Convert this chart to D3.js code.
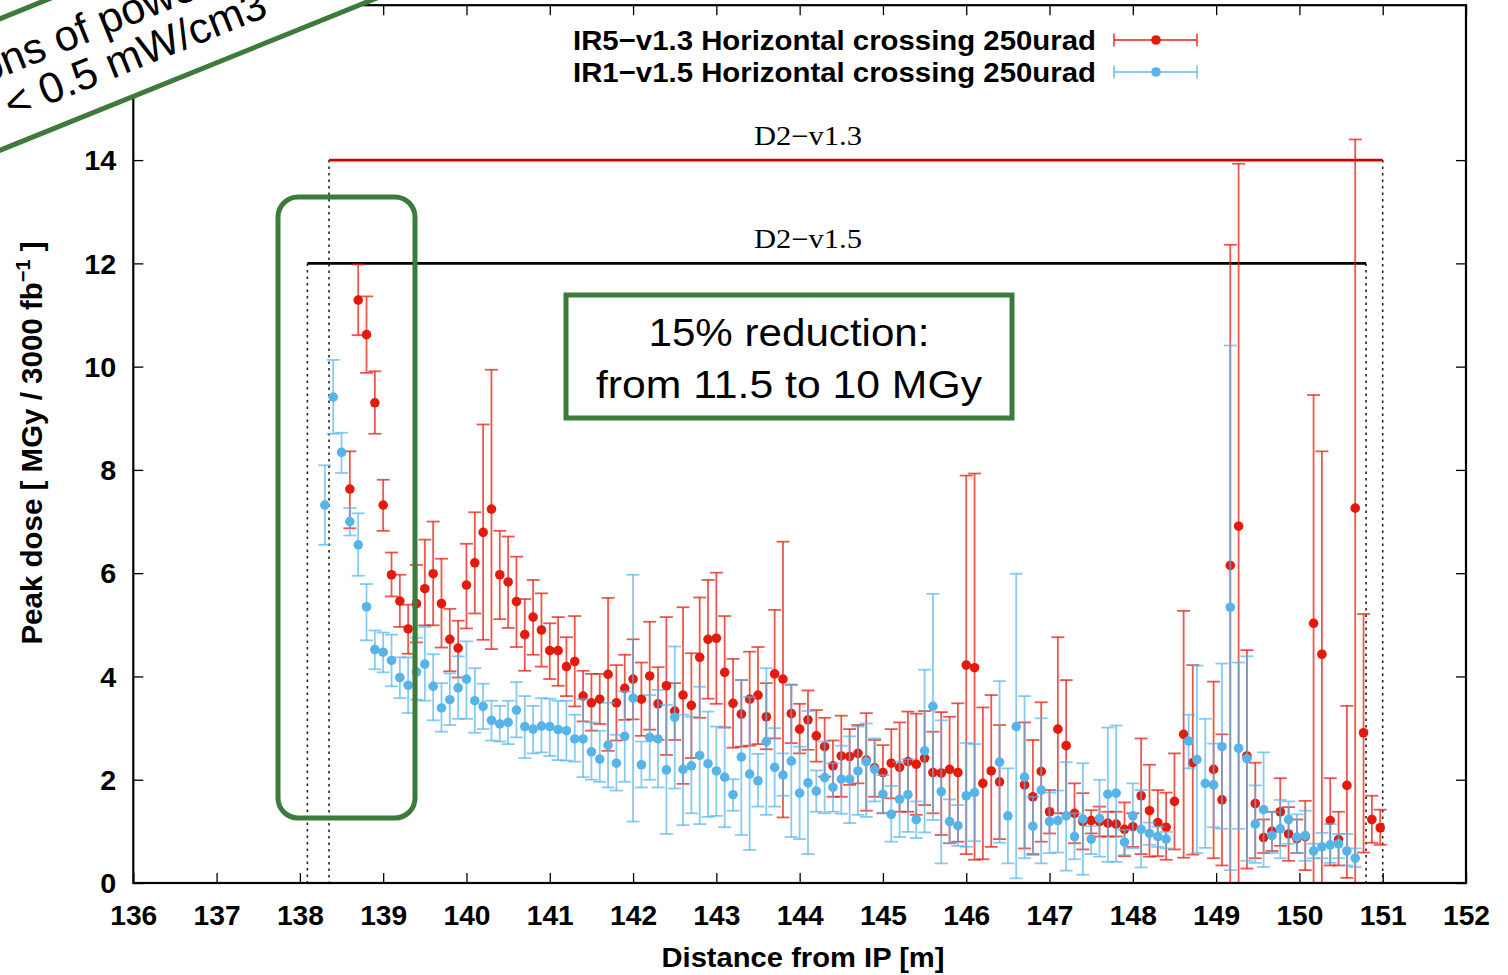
<!DOCTYPE html>
<html><head><meta charset="utf-8">
<script src="https://cdn.jsdelivr.net/npm/d3@7"></script>
<style>body{margin:0;background:#fff}svg{display:block}</style>
</head><body>
<svg id="c" width="1508" height="975"></svg>
<script>
// ---------------- DATA ----------------
const xTickValues = [136,137,138,139,140,141,142,143,144,145,146,147,148,149,150,151,152];
const yTickValues = [0,2,4,6,8,10,12,14];
const seriesLabels = ["IR5\u2212v1.3 Horizontal crossing 250urad", "IR1\u2212v1.5 Horizontal crossing 250urad"];
// [x, value, low, high]
const ir5Data = [
[138.6,7.63,6.87,8.36],[138.7,11.29,10.61,11.98],[138.8,10.62,9.88,11.36],[138.9,9.30,8.70,9.91],
[139.0,7.32,6.82,7.81],[139.1,5.97,5.55,6.40],[139.2,5.46,4.96,5.97],[139.3,4.92,4.44,5.39],
[139.4,5.41,4.66,6.16],[139.5,5.70,4.99,6.65],[139.6,5.99,4.99,7.00],[139.7,5.41,4.56,6.28],
[139.8,4.72,4.10,5.31],[139.9,4.55,3.98,5.08],[140.0,5.77,4.93,6.57],[140.1,6.20,5.22,7.18],
[140.2,6.79,4.71,8.88],[140.3,7.24,4.53,9.94],[140.4,5.97,5.11,6.82],[140.5,5.83,4.94,6.71],
[140.6,5.45,4.57,6.32],[140.7,4.81,4.11,5.50],[140.8,5.15,4.42,5.87],[140.9,4.90,4.19,5.61],
[141.0,4.50,3.95,5.03],[141.1,4.50,3.82,5.15],[141.2,4.19,3.62,4.76],[141.3,4.29,3.42,5.17],
[141.4,3.62,3.13,4.11],[141.5,3.49,2.95,4.05],[141.6,3.56,3.08,4.05],[141.7,4.04,2.56,5.52],
[141.8,3.49,2.76,4.22],[141.9,3.77,3.16,4.42],[142.0,3.95,3.17,4.72],[142.1,3.56,2.85,4.27],
[142.2,4.01,2.97,5.06],[142.3,3.47,2.77,4.18],[142.4,3.82,2.48,5.15],[142.5,3.33,2.77,3.87],
[142.6,3.64,1.92,5.34],[142.7,3.44,2.42,4.45],[142.8,4.37,3.20,5.53],[142.9,4.72,3.57,5.87],
[143.0,4.74,3.47,6.01],[143.1,4.08,3.01,5.17],[143.2,3.48,2.62,4.34],[143.3,3.27,2.64,3.93],
[143.4,3.56,2.66,4.48],[143.5,3.64,2.69,4.57],[143.6,3.22,2.59,3.87],[143.7,4.05,2.80,5.29],
[143.8,3.95,1.27,6.61],[143.9,3.28,2.71,3.84],[144.0,2.98,2.51,3.47],[144.1,3.16,2.58,3.73],
[144.2,2.85,2.35,3.35],[144.3,2.64,2.06,3.20],[144.4,2.27,1.67,2.76],[144.5,2.46,1.67,3.24],
[144.6,2.45,1.90,2.98],[144.7,2.51,1.93,3.06],[144.8,2.38,1.40,3.29],[144.9,2.23,1.67,2.77],
[145.0,2.14,1.35,2.67],[145.1,2.32,1.64,2.98],[145.2,2.24,1.38,3.11],[145.3,2.35,1.38,3.32],
[145.4,2.30,1.32,3.28],[145.5,2.42,1.51,3.33],[145.6,2.14,1.35,2.93],[145.7,2.13,0.93,3.31],
[145.8,2.20,0.77,3.22],[145.9,2.14,0.80,3.48],[146.0,4.22,0.56,7.89],[146.1,4.17,0.45,7.93],
[146.2,1.93,0.46,3.40],[146.3,2.17,0.70,3.64],[146.4,1.96,0.85,3.06],[146.7,1.90,0.67,3.11],
[146.8,1.67,0.56,2.77],[146.9,2.16,0.80,3.50],[147.0,1.38,0.96,1.80],[147.1,2.98,1.35,4.76],
[147.2,2.66,1.35,3.93],[147.3,1.35,0.77,1.93],[147.4,1.19,0.65,1.74],[147.5,1.21,0.96,1.41],
[147.6,1.19,0.90,1.48],[147.7,1.16,0.90,1.38],[147.8,1.14,0.90,1.38],[147.9,1.04,0.52,1.56],
[148.0,1.09,0.70,1.35],[148.1,1.69,0.56,2.80],[148.2,1.40,0.51,2.29],[148.3,1.17,0.52,1.80],
[148.4,1.08,0.45,1.75],[148.5,1.58,0.65,2.51],[148.61,2.88,0.49,5.27],[148.72,2.33,0.55,4.22],
[148.97,2.20,0.48,3.90],[149.07,1.61,0.34,2.88],[149.17,6.15,0,12.36],[149.27,6.91,0,13.93],
[149.37,2.46,0.28,4.51],[149.47,1.54,0.48,2.33],[149.57,0.88,0.58,1.23],[149.67,1.00,0.62,1.38],
[149.77,1.38,0.72,2.03],[149.87,0.95,0.43,1.47],[149.97,0.86,0.58,1.23],[150.07,0.90,0.25,1.59],
[150.17,5.03,0,9.45],[150.27,4.43,0,8.36],[150.37,1.21,0.34,2.03],[150.47,0.84,0.34,1.38],
[150.57,1.89,0.10,3.43],[150.67,7.26,0,14.40],[150.77,2.91,0.59,5.21],[150.87,1.23,0.78,1.69],
[150.97,1.07,0.74,1.42]
];
const ir1Data = [
[138.3,7.32,6.55,8.09],[138.4,9.41,8.70,10.13],[138.5,8.34,7.94,8.72],[138.6,7.00,6.73,7.26],
[138.7,6.55,5.95,7.16],[138.8,5.35,4.70,5.79],[138.9,4.52,4.14,4.89],[139.0,4.47,4.08,4.85],
[139.1,4.31,3.81,4.81],[139.2,3.98,3.58,4.37],[139.3,3.83,3.29,4.37],[139.4,4.09,3.55,4.75],
[139.5,4.24,3.53,4.96],[139.6,3.81,3.15,4.43],[139.7,3.39,2.93,3.87],[139.8,3.55,3.06,4.06],
[139.9,3.78,3.18,4.39],[140.0,3.95,3.18,4.68],[140.1,3.53,2.91,4.16],[140.2,3.42,2.98,3.86],
[140.3,3.15,2.76,3.53],[140.4,3.08,2.74,3.43],[140.5,3.11,2.69,3.53],[140.6,3.35,2.82,3.89],
[140.7,3.03,2.42,3.62],[140.8,2.98,2.51,3.43],[140.9,3.04,2.53,3.58],[141.0,3.03,2.46,3.57],
[141.1,2.97,2.38,3.53],[141.2,2.95,2.37,3.53],[141.3,2.79,2.35,3.26],[141.4,2.79,2.05,3.56],
[141.5,2.54,2.00,3.11],[141.6,2.40,1.96,2.95],[141.7,2.67,1.85,3.49],[141.8,2.32,1.79,2.87],
[141.9,2.84,1.96,3.71],[142.0,3.58,1.19,5.97],[142.1,2.29,1.85,2.74],[142.2,2.82,2.00,3.64],
[142.3,2.79,1.85,3.74],[142.4,2.19,0.95,3.45],[142.5,3.21,1.83,4.58],[142.6,2.20,1.12,3.26],
[142.7,2.27,1.35,3.22],[142.8,2.47,1.14,3.80],[142.9,2.31,1.28,3.32],[143.0,2.17,1.30,3.03],
[143.1,2.05,1.08,3.02],[143.2,1.71,1.40,2.01],[143.3,2.44,0.93,3.93],[143.4,2.11,0.64,3.60],
[143.5,1.98,1.48,2.50],[143.6,2.74,1.32,4.16],[143.7,2.24,1.48,3.00],[143.8,2.09,1.69,2.51],
[143.9,2.36,0.89,3.84],[144.0,1.74,0.85,2.64],[144.1,1.94,0.56,3.33],[144.2,1.78,1.38,2.18],
[144.3,2.04,1.35,2.74],[144.4,1.85,1.38,2.32],[144.5,2.01,1.34,2.66],[144.6,2.01,1.16,2.84],
[144.7,2.17,1.32,3.03],[144.8,2.35,1.28,3.09],[144.9,2.20,1.58,2.80],[145.0,1.72,1.36,2.09],
[145.1,1.33,0.80,1.88],[145.2,1.62,0.89,2.35],[145.3,1.71,0.99,2.40],[145.4,1.23,0.87,1.58],
[145.5,2.56,0.98,4.13],[145.6,3.42,1.22,5.60],[145.7,1.77,0.38,3.15],[145.8,1.19,0.77,1.62],
[145.9,1.11,0.72,1.51],[146.0,1.69,0.70,2.71],[146.1,1.75,0.81,2.69],[146.4,2.34,0.78,3.91],
[146.5,1.30,0.38,2.22],[146.6,3.03,0.09,5.99],[146.7,2.05,0.48,3.62],[146.8,1.10,0.54,1.67],
[146.9,1.80,0.38,3.19],[147.0,1.19,0.58,1.75],[147.1,1.21,0.59,1.79],[147.2,1.30,0.24,2.34],
[147.3,0.90,0.46,1.35],[147.4,1.24,0.16,2.32],[147.5,0.85,0.56,1.10],[147.6,1.25,0.51,2.00],
[147.7,1.72,0.41,3.01],[147.8,1.74,0.41,3.05],[147.9,0.79,0.54,1.03],[148.0,1.30,0.67,1.93],
[148.1,1.04,0.30,1.80],[148.2,0.96,0.74,1.17],[148.3,0.90,0.70,1.09],[148.4,0.85,0.67,0.99],
[148.67,2.75,2.22,3.26],[148.77,2.39,0.58,4.21],[148.87,1.93,0.68,3.18],[148.97,1.90,1.08,2.70],
[149.07,2.64,1.05,4.25],[149.17,5.34,0.25,10.41],[149.27,2.61,1.05,4.27],[149.37,2.41,0.43,4.39],
[149.47,1.14,0.39,1.89],[149.57,1.42,0.31,2.53],[149.67,0.92,0.58,1.37],[149.77,1.05,0.48,1.61],
[149.87,1.23,0.76,1.58],[149.97,0.89,0.58,1.33],[150.07,0.92,0.43,1.40],[150.17,0.62,0.48,0.76],
[150.27,0.70,0.48,0.97],[150.37,0.74,0.39,1.14],[150.47,0.76,0.48,0.95],[150.57,0.62,0.34,0.95],
[150.67,0.48,0.31,0.67]
];
// design limits: [label, value, xStart, xEnd]
const limitLines = [["D2\u2212v1.3",14,138.35,151.0],["D2\u2212v1.5",12,138.09,150.8]];

// ---------------- CHART ----------------
const svg = d3.select("#c");
const L=133.3, R=1466, T=5.2, B=883;
const x = d3.scaleLinear().domain([136,152]).range([L,R]);
const y = d3.scaleLinear().domain([0,17]).range([B,T]);

const redDot="#e31a0c", redBar="rgba(230,30,18,0.74)";
const bluDot="#56b4e9", bluBar="rgba(86,180,233,0.7)";
const green="#3c7b3a";
const limitColors=["#d40000","#000"];

// vertical dotted lines + limit lines
const g0 = svg.append("g");
limitLines.forEach((l,i)=>{
  [l[2],l[3]].forEach(v=>{
    g0.append("line").attr("x1",x(v)).attr("x2",x(v)).attr("y1",y(l[1])).attr("y2",B)
      .attr("stroke","#222").attr("stroke-width",1.6).attr("stroke-dasharray","2.5,4");
  });
  g0.append("line").attr("x1",x(l[2])).attr("x2",x(l[3])).attr("y1",y(l[1])).attr("y2",y(l[1]))
    .attr("stroke",limitColors[i]).attr("stroke-width",2.6);
  g0.append("text").attr("x",808).attr("y",y(l[1])-15).attr("text-anchor","middle")
    .attr("font-family","'Liberation Serif','DejaVu Serif',serif").attr("font-size",27)
    .attr("textLength",108).attr("lengthAdjust","spacingAndGlyphs").text(l[0]);
});

function drawSeries(data, dotC, barC){
  const g = svg.append("g");
  const cap=6.5;
  data.forEach(d=>{
    const cx=x(d[0]), y0=y(d[2]), y1=y(d[3]);
    g.append("line").attr("x1",cx).attr("x2",cx).attr("y1",y0).attr("y2",y1).attr("stroke",barC).attr("stroke-width",1.8);
    g.append("line").attr("x1",cx-cap).attr("x2",cx+cap).attr("y1",y0).attr("y2",y0).attr("stroke",barC).attr("stroke-width",1.8);
    g.append("line").attr("x1",cx-cap).attr("x2",cx+cap).attr("y1",y1).attr("y2",y1).attr("stroke",barC).attr("stroke-width",1.8);
  });
  g.selectAll("circle").data(data).join("circle").attr("cx",d=>x(d[0])).attr("cy",d=>y(d[1])).attr("r",4.8).attr("fill",dotC);
}
drawSeries(ir5Data, redDot, redBar);
drawSeries(ir1Data, bluDot, bluBar);

// axes
const fontS="'Liberation Sans',Arial,Helvetica,sans-serif";
const ax = svg.append("g").attr("transform",`translate(0,${B})`).call(d3.axisBottom(x).tickValues(xTickValues).tickSize(-10).tickFormat(d3.format("d")));
ax.select(".domain").remove();
ax.selectAll("line").attr("stroke","#000").attr("stroke-width",1.3);
ax.selectAll("text").attr("y",42).attr("dy",null).attr("font-family",fontS).attr("font-weight","bold").attr("font-size",27)
  .attr("fill","#000").attr("textLength",47).attr("lengthAdjust","spacingAndGlyphs");
ax.selectAll("text").attr("x",-23.5).attr("text-anchor","start");

const ay = svg.append("g").attr("transform",`translate(${L},0)`).call(d3.axisLeft(y).tickValues(yTickValues).tickSize(-10));
ay.select(".domain").remove();
ay.selectAll("line").attr("stroke","#000").attr("stroke-width",1.3);
ay.selectAll("text").attr("x",-17).attr("dy","0.36em").attr("font-family",fontS).attr("font-weight","bold").attr("font-size",27).attr("fill","#000")
  .each(function(d){ const s=String(d); d3.select(this).attr("textLength",s.length*16).attr("lengthAdjust","spacingAndGlyphs"); });

const at = svg.append("g").attr("transform",`translate(0,${T})`).call(d3.axisTop(x).tickValues(xTickValues).tickSize(-10).tickFormat(""));
at.select(".domain").remove(); at.selectAll("line").attr("stroke","#000").attr("stroke-width",1.3);
const ar = svg.append("g").attr("transform",`translate(${R},0)`).call(d3.axisRight(y).tickValues(yTickValues).tickSize(-10).tickFormat(""));
ar.select(".domain").remove(); ar.selectAll("line").attr("stroke","#000").attr("stroke-width",1.3);

svg.append("rect").attr("x",L).attr("y",T).attr("width",R-L).attr("height",B-T).attr("fill","none").attr("stroke","#000").attr("stroke-width",2.2);

// axis titles
svg.append("text").attr("x",803).attr("y",967).attr("text-anchor","middle").attr("font-family",fontS).attr("font-weight","bold")
  .attr("font-size",28).attr("textLength",283).attr("lengthAdjust","spacingAndGlyphs").text("Distance from IP [m]");
const yl = svg.append("text").attr("transform","translate(42,443) rotate(-90)").attr("text-anchor","middle")
  .attr("font-family",fontS).attr("font-weight","bold").attr("font-size",29.5);
yl.append("tspan").text("Peak dose [ MGy / 3000 fb");
yl.append("tspan").attr("dy",-12).attr("font-size",20).text("\u22121");
yl.append("tspan").attr("dy",12).text(" ]");

// legend
seriesLabels.forEach((lab,i)=>{
  const ly = 40 + i*32;
  const c = i===0?redDot:bluDot, cb = i===0?redBar:bluBar;
  svg.append("text").attr("x",1096).attr("y",ly+10).attr("text-anchor","end").attr("font-family",fontS).attr("font-weight","bold")
    .attr("font-size",28.5).attr("textLength",523).attr("lengthAdjust","spacingAndGlyphs").text(lab);
  svg.append("line").attr("x1",1114).attr("x2",1197).attr("y1",ly).attr("y2",ly).attr("stroke",cb).attr("stroke-width",1.8);
  [1114,1197].forEach(v=>svg.append("line").attr("x1",v).attr("x2",v).attr("y1",ly-6.5).attr("y2",ly+6.5).attr("stroke",cb).attr("stroke-width",1.8));
  svg.append("circle").attr("cx",1156).attr("cy",ly).attr("r",4.8).attr("fill",c);
});

// annotations
svg.append("rect").attr("x",278).attr("y",197).attr("width",137).attr("height",621).attr("rx",20)
  .attr("fill","none").attr("stroke",green).attr("stroke-width",5);
svg.append("rect").attr("x",566).attr("y",295).attr("width",446).attr("height",123)
  .attr("fill","#fff").attr("stroke",green).attr("stroke-width",5);
svg.append("text").attr("x",789).attr("y",346).attr("text-anchor","middle").attr("font-family",fontS).attr("font-size",39)
  .attr("textLength",281).attr("lengthAdjust","spacingAndGlyphs").text("15% reduction:");
svg.append("text").attr("x",789).attr("y",398).attr("text-anchor","middle").attr("font-family",fontS).attr("font-size",39)
  .attr("textLength",386).attr("lengthAdjust","spacingAndGlyphs").text("from 11.5 to 10 MGy");

const band = svg.append("g").attr("transform","translate(7,114) rotate(-22)");
band.append("rect").attr("x",-300).attr("y",-91).attr("width",1000).attr("height",122).attr("fill","#fff").attr("stroke",green).attr("stroke-width",5);
band.append("text").attr("x",-98).attr("y",-36).attr("font-family",fontS).attr("font-size",43).text("Regions of power");
band.append("text").attr("x",2).attr("y",7).attr("font-family",fontS).attr("font-size",43).text("< 0.5 mW/cm3");
</script>
</body></html>
